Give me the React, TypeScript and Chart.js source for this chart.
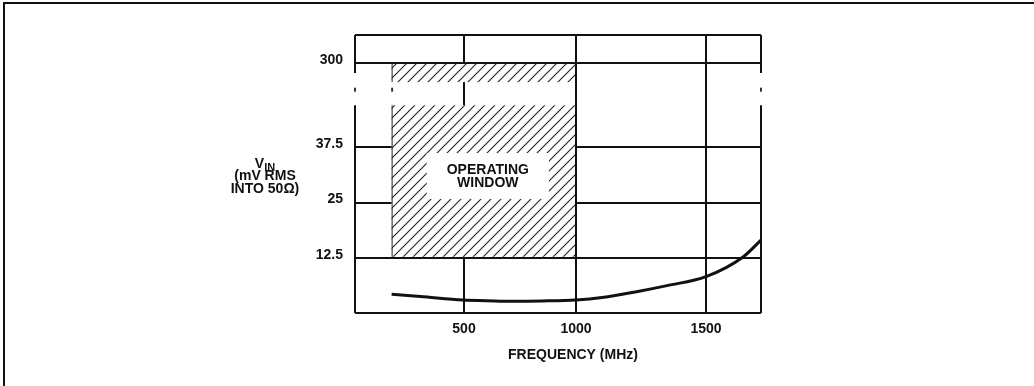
import React, { useEffect, useRef } from 'react';
import { Chart, registerables, LinearScale } from 'chart.js';

Chart.register(...registerables);

// ---- data ----
const freqMHz = [168, 300, 495, 600, 719, 850, 1000, 1100, 1233, 1350, 1500, 1636, 1700];
const vinMv = [4.23, 3.75, 2.94, 2.8, 2.65, 2.72, 2.95, 3.5, 4.82, 6.2, 8.22, 12.74, 16.5];

const xTickValues = [500, 1000, 1500];
const yTickValues = [12.5, 25, 37.5, 300];

const windowFreq = [168, 1000];
const windowVin = [12.5, 300];
const hatchGapVin = [47, 200];
const axisBreakVin = [47, 260];
const breakMarkVin = 150;

// ---- non-uniform axis (as in the scanned datasheet figure) ----
const scaleKnots: Record<string, { v: number[]; f: number[] }> = {
  x: { v: [0, 500, 1000, 1500, 1700], f: [0, 109 / 406, 221 / 406, 351 / 406, 1] },
  y: { v: [0, 47, 260, 300, 410], f: [0, 207.7 / 278, 240 / 278, 250 / 278, 1] },
};

function interp(a: number[], b: number[], t: number): number {
  if (t <= a[0]) return b[0] + ((t - a[0]) * (b[1] - b[0])) / (a[1] - a[0]);
  for (let i = 1; i < a.length; i++) {
    if (t <= a[i]) return b[i - 1] + ((t - a[i - 1]) * (b[i] - b[i - 1])) / (a[i] - a[i - 1]);
  }
  const n = a.length - 1;
  return b[n] + ((t - a[n]) * (b[n] - b[n - 1])) / (a[n] - a[n - 1]);
}

class PiecewiseScale extends LinearScale {
  static id = 'piecewise';
  static defaults = {};
  getPixelForValue(value: number) {
    const k = scaleKnots[(this as any).id];
    return (this as any).getPixelForDecimal(interp(k.v, k.f, value));
  }
  getValueForPixel(pixel: number) {
    const k = scaleKnots[(this as any).id];
    return interp(k.f, k.v, (this as any).getDecimalForPixel(pixel));
  }
}
Chart.register(PiecewiseScale as any);

const FONT = '"Liberation Sans", Arial, Helvetica, sans-serif';
const INK = '#111';
const FS = 14;

function makePattern(ctx: CanvasRenderingContext2D) {
  const s = 10;
  const tile = document.createElement('canvas');
  tile.width = s;
  tile.height = s;
  const t = tile.getContext('2d')!;
  t.strokeStyle = '#222';
  t.lineWidth = 1.1;
  t.beginPath();
  t.moveTo(0, s);
  t.lineTo(s, 0);
  t.moveTo(-1, 1);
  t.lineTo(1, -1);
  t.moveTo(s - 1, s + 1);
  t.lineTo(s + 1, s - 1);
  t.stroke();
  return ctx.createPattern(tile, 'repeat');
}

const decorPlugin = {
  id: 'decor',
  beforeDraw(chart: any) {
    const ctx: CanvasRenderingContext2D = chart.ctx;
    ctx.save();
    ctx.fillStyle = '#fff';
    ctx.fillRect(0, 0, chart.width, chart.height);
    ctx.strokeStyle = INK;
    ctx.lineWidth = 2;
    ctx.beginPath();
    ctx.moveTo(4, chart.height);
    ctx.lineTo(4, 3);
    ctx.lineTo(chart.width, 3);
    ctx.stroke();
    ctx.restore();
  },
  beforeDatasetsDraw(chart: any) {
    const ctx: CanvasRenderingContext2D = chart.ctx;
    const ca = chart.chartArea;
    const x = chart.scales.x;
    const y = chart.scales.y;
    ctx.save();
    const pattern = makePattern(ctx);
    const x0 = x.getPixelForValue(windowFreq[0]);
    const x1 = x.getPixelForValue(windowFreq[1]);
    const segs = [
      [windowVin[0], hatchGapVin[0]],
      [hatchGapVin[1], windowVin[1]],
    ];
    for (const [a, b] of segs) {
      const ya = y.getPixelForValue(a);
      const yb = y.getPixelForValue(b);
      const top = b === windowVin[1] ? yb + 1 : yb;
      const bot = a === windowVin[0] ? ya - 1 : ya;
      ctx.fillStyle = '#fff';
      ctx.fillRect(x0, top, x1 - 1 - x0, bot - top);
      if (pattern) {
        ctx.fillStyle = pattern;
        ctx.fillRect(x0, top, x1 - 1 - x0, bot - top);
      }
      ctx.strokeStyle = '#222';
      ctx.lineWidth = 1;
      ctx.beginPath();
      ctx.moveTo(x0 + 0.5, top);
      ctx.lineTo(x0 + 0.5, bot);
      ctx.stroke();
    }
    // label box inside the window
    ctx.font = `bold ${FS}px ${FONT}`;
    const l1 = 'OPERATING';
    const l2 = 'WINDOW';
    const cx = (x0 + x1) / 2 + 4;
    const cy = y.getPixelForValue(31);
    const w = Math.max(ctx.measureText(l1).width, ctx.measureText(l2).width) + 40;
    ctx.fillStyle = '#fff';
    ctx.fillRect(cx - w / 2, cy - 23, w, 46);
    ctx.fillStyle = INK;
    ctx.textAlign = 'center';
    ctx.textBaseline = 'middle';
    ctx.fillText(l1, cx, cy - 6);
    ctx.fillText(l2, cx, cy + 7);

    // plot frame with axis break
    const bLo = y.getPixelForValue(axisBreakVin[0]);
    const bHi = y.getPixelForValue(axisBreakVin[1]);
    ctx.strokeStyle = INK;
    ctx.lineWidth = 2;
    ctx.beginPath();
    ctx.moveTo(ca.left, ca.top);
    ctx.lineTo(ca.right, ca.top);
    ctx.moveTo(ca.left, ca.bottom);
    ctx.lineTo(ca.right, ca.bottom);
    for (const px of [ca.left, ca.right]) {
      ctx.moveTo(px, ca.top);
      ctx.lineTo(px, bHi);
      ctx.moveTo(px, bLo);
      ctx.lineTo(px, ca.bottom);
    }
    ctx.stroke();
    const bm = y.getPixelForValue(breakMarkVin);
    ctx.fillStyle = '#333';
    for (const px of [ca.left, ca.right, x0 + 0.5]) {
      ctx.fillRect(px - 1, bm - 2, 2, 4);
    }
    ctx.restore();
  },
  afterDraw(chart: any) {
    const ctx: CanvasRenderingContext2D = chart.ctx;
    ctx.save();
    ctx.fillStyle = INK;
    ctx.textBaseline = 'middle';
    ctx.textAlign = 'center';
    // x axis title
    ctx.font = `bold ${FS}px ${FONT}`;
    ctx.fillText('FREQUENCY (MHz)', 573, 355);
    // y axis title
    const cx = 265;
    ctx.font = `bold ${FS}px ${FONT}`;
    const vw = ctx.measureText('V').width;
    ctx.font = `bold 11px ${FONT}`;
    const sw = ctx.measureText('IN').width;
    const start = cx - (vw + sw) / 2;
    ctx.textAlign = 'left';
    ctx.font = `bold ${FS}px ${FONT}`;
    ctx.fillText('V', start, 164.5);
    ctx.font = `bold 11px ${FONT}`;
    ctx.fillText('IN', start + vw, 168);
    ctx.textAlign = 'center';
    ctx.font = `bold ${FS}px ${FONT}`;
    ctx.fillText('(mV RMS', cx, 176.5);
    ctx.fillText('INTO 50\u03A9)', cx, 189);
    ctx.restore();
  },
};

export default function App() {
  const ref = useRef<HTMLCanvasElement | null>(null);
  useEffect(() => {
    document.body.style.margin = '0';
    document.body.style.overflow = 'hidden';
    const canvas = ref.current;
    if (!canvas) return;
    const chart = new Chart(canvas, {
      type: 'line',
      data: {
        datasets: [
          {
            data: freqMHz.map((f, i) => ({ x: f, y: vinMv[i] })),
            borderColor: INK,
            borderWidth: 3,
            pointRadius: 0,
            tension: 0.4,
            cubicInterpolationMode: 'monotone',
            fill: false,
          } as any,
        ],
      },
      options: {
        animation: false,
        responsive: false,
        layout: { padding: { left: 0, top: 35, right: 273, bottom: 0 } },
        plugins: { legend: { display: false }, tooltip: { enabled: false }, title: { display: false } },
        scales: {
          x: {
            type: 'piecewise' as any,
            min: 0,
            max: 1700,
            afterBuildTicks: (s: any) => {
              s.ticks = xTickValues.map((v) => ({ value: v }));
            },
            afterFit: (s: any) => {
              s.height = 73;
            },
            border: { display: false },
            grid: { color: INK, lineWidth: 2, drawTicks: false },
            ticks: {
              autoSkip: false,
              maxRotation: 0,
              padding: 8,
              color: INK,
              font: { family: FONT, size: FS, weight: 'bold' },
              callback: (v: any) => String(v),
            },
          } as any,
          y: {
            type: 'piecewise' as any,
            min: 0,
            max: 410,
            afterBuildTicks: (s: any) => {
              s.ticks = yTickValues.map((v) => ({ value: v }));
            },
            afterFit: (s: any) => {
              s.width = 355;
            },
            border: { display: false },
            grid: { color: INK, lineWidth: 2, drawTicks: false },
            ticks: {
              autoSkip: false,
              padding: 12,
              labelOffset: -3,
              color: INK,
              font: { family: FONT, size: FS, weight: 'bold' },
              callback: (v: any) => String(v),
            },
          } as any,
        },
      },
      plugins: [decorPlugin as any],
    });
    return () => chart.destroy();
  }, []);
  return (
    <div style={{ width: 1034, height: 386 }}>
      <canvas ref={ref} width={1034} height={386} style={{ display: 'block' }} />
    </div>
  );
}
